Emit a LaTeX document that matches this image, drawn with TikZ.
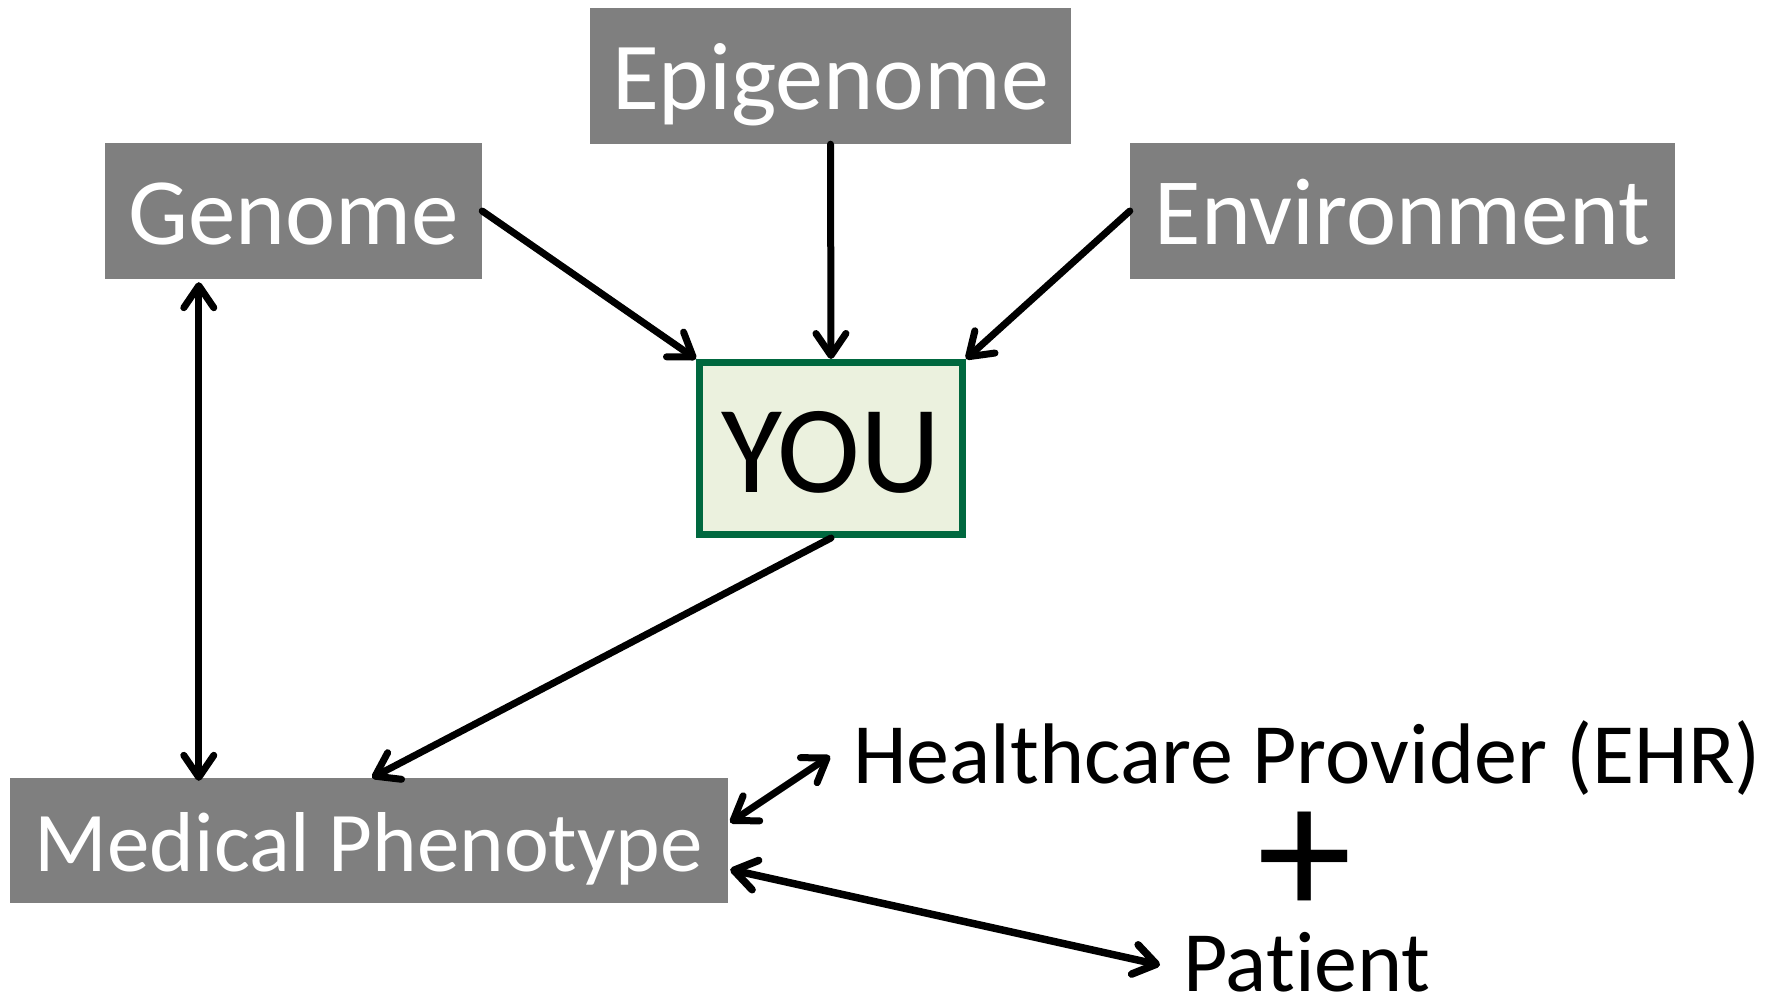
\documentclass[tikz,border=0pt]{standalone}
\usepackage{fontspec}
\setmainfont{Carlito}[Ligatures=NoCommon]
\usetikzlibrary{arrows.meta,calc}
\definecolor{boxgray}{HTML}{7F7F7F}
\definecolor{yougreen}{HTML}{00683F}
\definecolor{youfill}{HTML}{EBF1DE}
\tikzset{
  graybox/.style={fill=boxgray, text=white, inner sep=0pt, text depth=0pt},
  tipx/.tip={Straight Barb[length=22pt,width=30pt,round]},
  conn/.style={line width=7pt, line cap=round, -{tipx}},
  bconn/.style={line width=7pt, line cap=round, {tipx}-{tipx}},
  plain/.style={inner sep=0pt, text depth=0pt}
}
\begin{document}
\begin{tikzpicture}[x=1pt,y=-1pt]
\useasboundingbox (0,0) rectangle (1766,998);
\node[graybox, minimum width=481pt, minimum height=136pt, text height=66pt,
      font=\fontsize{96}{110}\selectfont] (epi) at (830.5,76) {Epigenome};
\node[graybox, minimum width=377pt, minimum height=136pt, text height=66pt,
      font=\fontsize{95}{110}\selectfont] (gen) at (293.5,211) {Genome};
\node[graybox, minimum width=545pt, minimum height=136pt, text height=66pt,
      font=\fontsize{95}{110}\selectfont] (env) at (1402.5,211) {Environment};
\node[draw=yougreen, line width=7pt, fill=youfill, inner sep=0pt, text depth=0pt,
      minimum width=263pt, minimum height=172pt, text height=87pt,
      font=\fontsize{125}{140}\selectfont] (you) at (831,448.5) {YOU};
\node[graybox, minimum width=718pt, minimum height=125pt, text height=61pt,
      font=\fontsize{85}{100}\selectfont] (med) at (369,840.5) {Medical Phenotype};
\node[anchor=base west, inner sep=0pt, font=\fontsize{86}{100}\selectfont] (hcb) at (853,783) {Healthcare Provider (EHR)};
\node[anchor=base west, inner sep=0pt, font=\fontsize{86}{100}\selectfont] (pat) at (1183,991) {Patient};
\node[anchor=base, inner sep=0pt, text height=100pt, text depth=0pt,
      font=\fontsize{190}{190}\selectfont] (plus) at (1305,916) {+};

\draw[conn] (gen.east) -- (you.north west);
\draw[conn] (epi.south) -- (you.north);
\draw[conn] (env.west) -- (you.north east);
\draw[conn] (you.south) -- ([xshift=3pt]med.north);
\draw[bconn] ([xshift=94pt,yshift=-3pt]gen.south west) -- ([xshift=94pt,yshift=-3pt]gen.south west |- med.north);
\draw[bconn] ([xshift=2pt,yshift=18pt]med.east) -- ([xshift=-23pt,yshift=27pt]hcb.base west);
\draw[bconn, line width=7.5pt] ([xshift=2pt,yshift=-29pt]med.east) -- ([xshift=-23pt,yshift=26pt]pat.base west);
\end{tikzpicture}
\end{document}
